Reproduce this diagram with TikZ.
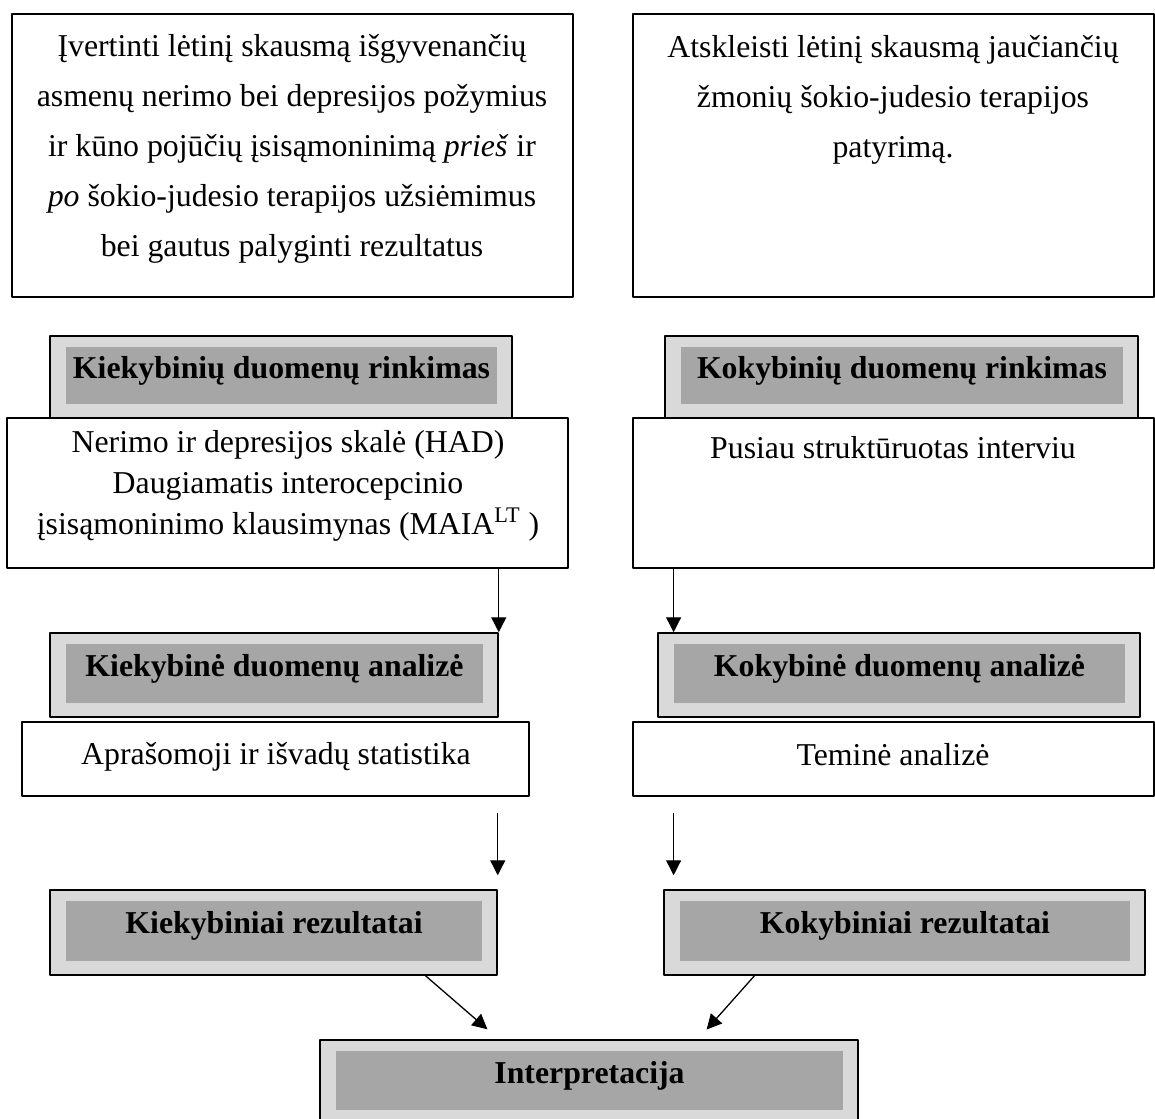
\documentclass[tikz,border=0pt]{standalone}
\usepackage{fontspec}
\setmainfont{Liberation Serif}
\usetikzlibrary{arrows.meta,calc,fit}

\begin{document}
\begin{tikzpicture}[x=0.5pt,y=-0.5pt,>={Triangle[length=7.5pt,width=7.5pt]},line join=round,
	balta/.style={draw,line width=0.75pt,fill=white,inner sep=0pt},
	isore/.style={draw,line width=0.75pt,fill=gray!30,inner sep=0pt},
	vidus/.style={fill=gray!70,inner sep=0pt},
	tekstas/.style={font=\fontsize{15.9}{25}\selectfont,align=center,inner sep=0pt},
	antr/.style={font=\fontsize{15.9}{18}\selectfont\bfseries,inner sep=0pt},
	rod/.style={->,line width=0.65pt}]
	\def\pilka#1#2#3#4#5#6{%
		\node[isore,fit={(#2,#3) (#4,#5)}] (#1) {};
		\node[vidus,fit={($(#2,#3)+(16,11)$) ($(#4,#5)+(-15,-14)$)}] (#1v) {};
		\node[antr] (#1t) at ($(#1v.center)+(0,-5)$) {#6};}
	\useasboundingbox (0,0) rectangle (1155,1118);
	% tikslai
	\node[balta,fit={(12,14) (573,297)}] (tiksl1) {};
	\node[tekstas] (tiksl1t) at (292,149) {Įvertinti lėtinį skausmą išgyvenančių\\
		asmenų nerimo bei depresijos požymius\\
		ir kūno pojūčių įsisąmoninimą \textit{prieš} ir\\
		\textit{po} šokio-judesio terapijos užsiėmimus\\
		bei gautus palyginti rezultatus};
	\node[balta,fit={(633,14) (1154,297)}] (tiksl2) {};
	\node[tekstas] (tiksl2t) at (893,100) {Atskleisti lėtinį skausmą jaučiančių\\
		žmonių šokio-judesio terapijos\\
		patyrimą.};
	% duomenu rinkimas
	\pilka{kiekr}{50}{336}{512}{418}{Kiekybinių duomenų rinkimas}
	\pilka{kokr}{665}{336}{1138}{418}{Kokybinių duomenų rinkimas}
	\node[balta,fit={(7,418) (568,568)}] (metod1) {};
	\node[tekstas,font=\fontsize{15.9}{20.5}\selectfont] (metod1t) at (288,486) {Nerimo ir depresijos skalė (HAD)\\
		Daugiamatis interocepcinio\\
		įsisąmoninimo klausimynas (MAIA\textsuperscript{LT} )};
	\node[balta,fit={(633,418) (1154,568)}] (metod2) {};
	\node[tekstas] (metod2t) at (893,448) {Pusiau struktūruotas interviu};
	% analize
	\pilka{kiekan}{50}{633}{498}{717}{Kiekybinė duomenų analizė}
	\pilka{kokan}{658}{633}{1140}{717}{Kokybinė duomenų analizė}
	\node[balta,fit={(22,722) (529,796)}] (stat) {};
	\node[tekstas] (statt) at (276,757) {Aprašomoji ir išvadų statistika};
	\node[balta,fit={(633,722) (1154,796)}] (tem) {};
	\node[tekstas] (temt) at (893,755) {Teminė analizė};
	% rezultatai
	\pilka{kiekrez}{50}{890}{497}{975}{Kiekybiniai rezultatai}
	\pilka{kokrez}{664}{890}{1145}{975}{Kokybiniai rezultatai}
	\pilka{interp}{320}{1040}{858}{1124}{Interpretacija}
	% rodykles
	\draw[rod] (metod1.south -| kiekan.north east) -- (kiekan.north east);
	\draw[rod] (metod2.south -| kokanv.west) -- (kokan.north -| kokanv.west);
	\draw[rod,shorten <=8pt,shorten >=7pt] (stat.south -| kiekrez.north east) -- (kiekrez.north east);
	\draw[rod,shorten <=8pt,shorten >=7pt] (tem.south -| kokanv.west) -- (kokrez.north -| kokanv.west);
	\draw[rod,shorten >=7.6pt] ($(kiekrez.south west)!0.839!(kiekrez.south east)$) -- ($(interp.north west)!0.333!(interp.north east)$);
	\draw[rod,shorten >=6.5pt] ($(kokrez.south west)!0.189!(kokrez.south east)$) -- ($(interp.north west)!0.702!(interp.north east)$);
\end{tikzpicture}
\end{document}
